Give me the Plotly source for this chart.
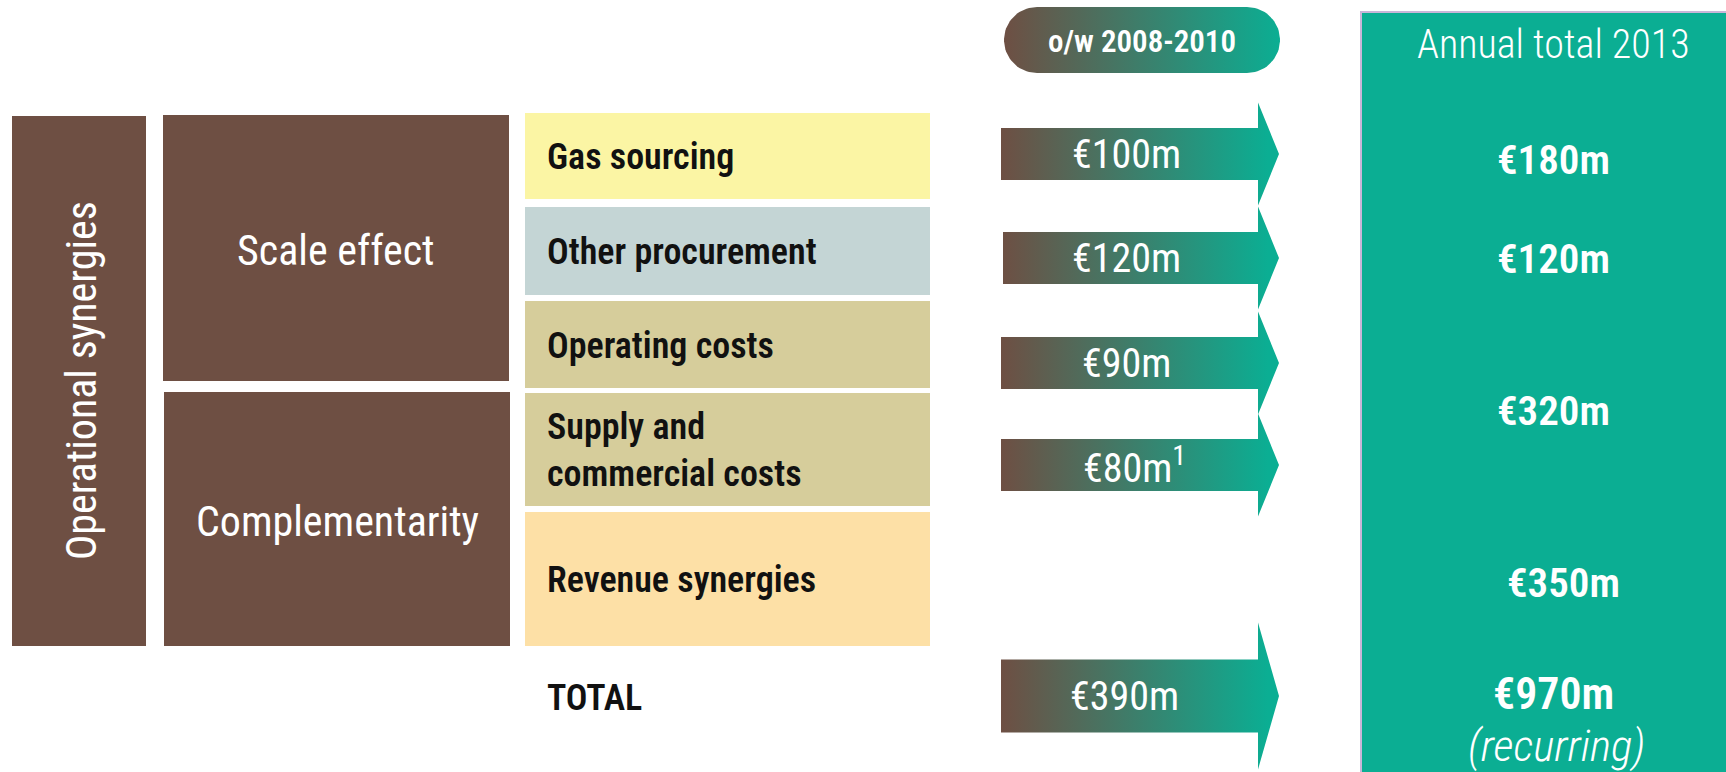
import numpy as np
import plotly.graph_objects as go

# ---------------- data ----------------
categories = ["Gas sourcing", "Other procurement", "Operating costs",
              "Supply and<br>commercial costs", "Revenue synergies"]
ow_2008_2010 = [100, 120, 90, 80]          # €m, o/w 2008-2010 (first four categories)
ow_footnote = ["", "", "", "1"]
annual_2013 = [180, 120, 320, 350]          # €m, annual total 2013 (320 = operating + supply)
total_ow = 390
total_annual = 970
groups = ["Scale effect", "Complementarity"]
top_group = "Operational synergies"
header_ow = "o/w 2008-2010"
header_annual = "Annual total 2013"
total_label = "TOTAL"
recurring_label = "(recurring)"

# ---------------- layout constants ----------------
W, H = 1726, 772
BROWN = "#6E4F43"
TEAL = "#0BAE93"
row_colors = ["#FBF5A4", "#C4D5D5", "#D6CD9B", "#D6CD9B", "#FDE0A6"]
row_top = [113, 207, 301, 393, 512]
row_bot = [199, 295, 388, 506, 646]
row_x0, row_x1 = 525, 930
label_x = 545
group_boxes = [(163, 509, 115, 381), (164, 510, 392, 646)]
top_box = (12, 146, 116, 646)
arrow_y = [154, 258, 363, 465]
arrow_x0 = [1001, 1003, 1001, 1001]
arrow_body_h = 52
arrow_head_h = 103
total_arrow_y = 696
total_body_h = 73
total_head_h = 147
body_x1, tip_x = 1258, 1279
annual_y = [160, 259, 411, 583]
annual_x = [1553, 1553, 1553, 1563]
total_label_y = 698

NARROW = "Roboto Condensed, Liberation Sans Narrow, sans-serif"

fig = go.Figure()
shapes = []
ann = []

def rect(x0, x1, y0, y1, color, line=None):
    shapes.append(dict(type="rect", xref="x", yref="y", x0=x0, x1=x1, y0=y0, y1=y1,
                       fillcolor=color, line=dict(width=0) if line is None else line,
                       layer="below"))

def font(size, color="white", weight="normal", style="normal"):
    return dict(family=NARROW, size=size, color=color, weight=weight, style=style)

# left brown boxes
rect(top_box[0], top_box[1], top_box[2], top_box[3], BROWN)
ann.append(dict(x=(top_box[0] + top_box[1]) / 2 + 2, y=(top_box[2] + top_box[3]) / 2,
                text=top_group, textangle=-90, showarrow=False, font=font(42)))
for g, (x0, x1, y0, y1) in zip(groups, group_boxes):
    rect(x0, x1, y0, y1, BROWN)
    ann.append(dict(x=(x0 + x1) / 2, y=(y0 + y1) / 2 + 2, text=g, showarrow=False, font=font(42)))

# category rows
for i, c in enumerate(categories):
    rect(row_x0, row_x1, row_top[i], row_bot[i], row_colors[i])
    ann.append(dict(x=label_x, y=(row_top[i] + row_bot[i]) / 2 + 1, text=c,
                    xanchor="left", align="left", showarrow=False,
                    font=font(36, "#111111", 600)))
ann.append(dict(x=label_x, y=total_label_y, text=total_label, xanchor="left",
                showarrow=False, font=font(36, "#111111", 600)))

# right panel
rect(1361, W + 5, 12, H + 5, TEAL, line=dict(color="#C9B6D8", width=2))
ann.append(dict(x=1553, y=44, text=header_annual, showarrow=False, font=font(40, weight=300)))
for v, y, x in zip(annual_2013, annual_y, annual_x):
    ann.append(dict(x=x, y=y, text="€%dm" % v, showarrow=False, font=font(41, weight=600)))
ann.append(dict(x=1553, y=694, text="€%dm" % total_annual, showarrow=False, font=font(44, weight=600)))
ann.append(dict(x=1556, y=745, text=recurring_label, showarrow=False,
                font=font(45, weight=300, style="italic")))

# gradient arrows
grad = dict(type="horizontal", colorscale=[[0, BROWN], [1, TEAL]], start=1001, stop=1268)

def arrow(x0, yc, bh, hh):
    xs = [x0, body_x1, body_x1, tip_x, body_x1, body_x1, x0, x0]
    ys = [yc - bh / 2, yc - bh / 2, yc - hh / 2, yc, yc + hh / 2, yc + bh / 2, yc + bh / 2, yc - bh / 2]
    fig.add_trace(go.Scatter(x=xs, y=ys, mode="lines", fill="toself", line=dict(width=0),
                             fillgradient=grad, hoverinfo="skip", showlegend=False))

for v, fn, y, x0 in zip(ow_2008_2010, ow_footnote, arrow_y, arrow_x0):
    arrow(x0, y, arrow_body_h, arrow_head_h)
    t = "€%dm" % v + ("<sup>%s</sup>" % fn if fn else "")
    ann.append(dict(x=1126 + (8 if fn else 0), y=y, text=t, showarrow=False, font=font(40)))
arrow(1001, total_arrow_y, total_body_h, total_head_h)
ann.append(dict(x=1124, y=total_arrow_y, text="€%dm" % total_ow, showarrow=False, font=font(40)))

# header pill with gradient
px0, px1, py0, py1 = 1004, 1280, 7, 73
r = (py1 - py0) / 2
cy = (py0 + py1) / 2
th = np.linspace(-np.pi / 2, np.pi / 2, 40)
xs = list(px1 - r + r * np.cos(th)) + list(px0 + r - r * np.cos(th))
ys = list(cy + r * np.sin(th)) + list(cy - r * np.sin(th))
xs.append(xs[0]); ys.append(ys[0])
fig.add_trace(go.Scatter(x=xs, y=ys, mode="lines", fill="toself", line=dict(width=0),
                         fillgradient=dict(type="horizontal", colorscale=[[0, BROWN], [1, TEAL]]),
                         hoverinfo="skip", showlegend=False))
ann.append(dict(x=(px0 + px1) / 2, y=cy + 1, text=header_ow, showarrow=False,
                font=font(31, weight=600)))

fig.update_layout(
    width=W, height=H, autosize=False,
    margin=dict(l=0, r=0, t=0, b=0),
    paper_bgcolor="white", plot_bgcolor="white",
    xaxis=dict(range=[0, W], visible=False, fixedrange=True),
    yaxis=dict(range=[H, 0], visible=False, fixedrange=True),
    shapes=shapes, annotations=ann, showlegend=False,
)

fig.write_html("out.html", config={"displayModeBar": False},
               post_script="document.body.style.margin='0';")
